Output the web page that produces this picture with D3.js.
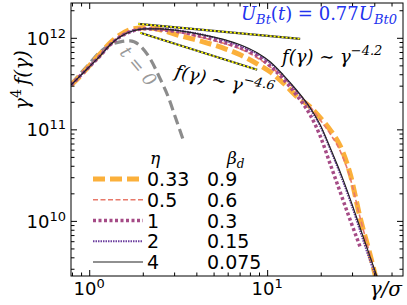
<!DOCTYPE html>
<html>
<head>
<meta charset="utf-8">
<script src="https://cdn.jsdelivr.net/npm/d3@7"></script>
<style>
body { margin: 0; background: #fff; }
svg { display: block; }
</style>
</head>
<body>
<svg id="chart" width="407" height="305"></svg>
<script>
// gamma/sigma grid shared by the eta runs
var gamma = [0.792, 0.890, 1.0, 1.153, 1.312, 1.493, 1.767, 2.064, 2.506, 3.245, 4.369, 5.808, 7.052,
             8.786, 10.39, 12.30, 14.74, 17.44, 19.85, 22.59, 25.71, 29.27, 33.31, 37.91, 41.50];

// gamma^4 f(gamma) for each eta
var f_eta033 = [3.06e11, 3.84e11, 4.94e11, 6.69e11, 8.82e11, 1.078e12, 1.254e12, 1.286e12, 1.223e12, 1.052e12, 9.04e11, 7.58e11, 6.52e11,
                5.20e11, 4.25e11, 3.22e11, 2.27e11, 1.76e11, 1.34e11, 9.87e10, 6.60e10, 3.26e10, 1.08e10, 4.25e9, 2.10e9];
var f_eta05  = [3.06e11, 3.84e11, 4.82e11, 6.52e11, 8.60e11, 1.052e12, 1.223e12, 1.254e12, 1.223e12, 1.134e12, 1.0e12, 8.60e11, 7.58e11,
                6.05e11, 4.82e11, 3.75e11, 2.57e11, 1.76e11, 1.27e11, 8.93e10, 5.82e10, 2.95e10, 1.08e10, 4.25e9, 2.27e9];
var f_eta1   = [3.06e11, 3.84e11, 4.82e11, 6.36e11, 8.39e11, 1.025e12, 1.193e12, 1.254e12, 1.223e12, 1.163e12, 1.025e12, 8.82e11, 7.78e11,
                6.36e11, 4.94e11, 3.56e11, 2.32e11, 1.44e11, 8.49e10, 4.20e10, 2.07e10, 1.025e10, 5.20e9, null, null];
var f_eta2   = [3.06e11, 3.84e11, 4.82e11, 6.36e11, 8.39e11, 1.025e12, 1.193e12, 1.254e12, 1.254e12, 1.193e12, 1.078e12, 9.27e11, 8.18e11,
                6.69e11, 5.33e11, 3.84e11, 2.57e11, 1.67e11, 1.09e11, 6.12e10, 3.26e10, 1.65e10, 7.78e9, 3.65e9, 2.27e9];
var f_eta4   = [3.06e11, 3.84e11, 4.82e11, 6.36e11, 8.39e11, 1.025e12, 1.193e12, 1.254e12, 1.254e12, 1.193e12, 1.078e12, 9.51e11, 8.39e11,
                6.86e11, 5.47e11, 3.94e11, 2.64e11, 1.72e11, 1.12e11, 6.28e10, 3.43e10, 1.74e10, 8.39e9, 4.04e9, 2.44e9];

// initial distribution, t = 0
var gamma_t0 = [0.792, 1.0, 1.153, 1.312, 1.493, 1.699, 1.934, 2.201, 2.506, 2.779, 3.042, 3.374];
var f_t0     = [3.14e11, 5.20e11, 7.03e11, 8.39e11, 9.04e11, 9.27e11, 8.18e11, 5.89e11, 3.56e11, 2.27e11, 1.37e11, 7.68e10];

// power law guides (end points)
var guide42_g = [1.885, 15.33], guide42_f = [1.42e12, 9.75e11];
var guide46_g = [1.934, 8.786], guide46_f = [1.134e12, 4.47e11];

var etaLabels  = ["0.33", "0.5", "1", "2", "4"];
var betaLabels = ["0.9", "0.6", "0.3", "0.15", "0.075"];
var xMajor = [1, 10], xExp = ["0", "1"];
var yMajor = [1e10, 1e11, 1e12], yExp = ["10", "11", "12"];

var svg = d3.select("#chart");
var plotL = 71, plotR = 403, plotT = 3, plotB = 276;
var sans = "'DejaVu Sans', sans-serif", serif = "'DejaVu Serif', serif";

var x = d3.scaleLog().domain([0.79, 58]).range([plotL, plotR]);
var y = d3.scaleLog().domain([2.5e9, 2.4e12]).range([plotB, plotT]);

svg.append("clipPath").attr("id", "clip")
    .append("rect").attr("x", plotL).attr("y", plotT)
    .attr("width", plotR - plotL).attr("height", plotB - plotT);

var series = [
    {f: f_eta033, color: "#fbb03b", width: 5,   dash: "12,5"},
    {f: f_eta05,  color: "#e8796a", width: 1.6, dash: "5,2.5"},
    {f: f_eta1,   color: "#a54b86", width: 3.5, dash: "3,2.5"},
    {f: f_eta2,   color: "#6b3d9e", width: 2,   dash: "1.5,1"},
    {f: f_eta4,   color: "#222222", width: 1.2, dash: null}
];

var line = d3.line()
    .defined(function (d) { return d[1] != null; })
    .x(function (d) { return x(d[0]); })
    .y(function (d) { return y(d[1]); })
    .curve(d3.curveMonotoneX);

var plot = svg.append("g").attr("clip-path", "url(#clip)");

// t = 0
plot.append("path")
    .attr("d", line(d3.zip(gamma_t0, f_t0)))
    .attr("fill", "none").attr("stroke", "#8c8c8c")
    .attr("stroke-width", 3.2).attr("stroke-dasharray", "10,5");

// guides: dark line under yellow dots
[[guide42_g, guide42_f], [guide46_g, guide46_f]].forEach(function (g) {
    var pts = d3.zip(g[0], g[1]);
    plot.append("path").attr("d", line(pts))
        .attr("fill", "none").attr("stroke", "#333").attr("stroke-width", 2.2);
    plot.append("path").attr("d", line(pts))
        .attr("fill", "none").attr("stroke", "#ffff00").attr("stroke-width", 1.6)
        .attr("stroke-dasharray", "2,2");
});

series.forEach(function (s) {
    plot.append("path")
        .attr("d", line(d3.zip(gamma, s.f)))
        .attr("fill", "none")
        .attr("stroke", s.color)
        .attr("stroke-width", s.width)
        .attr("stroke-dasharray", s.dash);
});

// axes, ticks inside on all four sides
var xMinor = x.ticks().filter(function (d) { return xMajor.indexOf(d) < 0; });
var yMinor = y.ticks().filter(function (d) { return yMajor.indexOf(d) < 0; });

var axes = [
    [d3.axisBottom, x, "translate(0," + plotB + ")", xMinor, xMajor],
    [d3.axisTop, x, "translate(0," + plotT + ")", xMinor, xMajor],
    [d3.axisLeft, y, "translate(" + plotL + ",0)", yMinor, yMajor],
    [d3.axisRight, y, "translate(" + plotR + ",0)", yMinor, yMajor]
];
axes.forEach(function (a) {
    [[a[3], 3.5], [a[4], 6]].forEach(function (t) {
        var g = svg.append("g").attr("transform", a[2])
            .call(a[0](a[1]).tickValues(t[0]).tickSize(-t[1]).tickFormat(""));
        g.select(".domain").remove();
        g.selectAll("line").attr("stroke", "#000").attr("stroke-width", 1);
    });
});

svg.append("rect")
    .attr("x", plotL).attr("y", plotT)
    .attr("width", plotR - plotL).attr("height", plotB - plotT)
    .attr("fill", "none").attr("stroke", "#000").attr("stroke-width", 1);

// tick labels as 10^n
xMajor.forEach(function (v, i) {
    var t = svg.append("text")
        .attr("x", x(v)).attr("y", 295)
        .attr("text-anchor", "middle")
        .style("font-family", sans).style("font-size", "18px");
    t.append("tspan").text("10");
    t.append("tspan").attr("dy", -7).style("font-size", "13px").text(xExp[i]);
});
yMajor.forEach(function (v, i) {
    var t = svg.append("text")
        .attr("x", plotL - 5).attr("y", y(v) + 7)
        .attr("text-anchor", "end")
        .style("font-family", sans).style("font-size", "18px");
    t.append("tspan").text("10");
    t.append("tspan").attr("dy", -7).style("font-size", "13px").text(yExp[i]);
});

// axis labels
svg.append("text")
    .attr("x", 402).attr("y", 296).attr("text-anchor", "end")
    .style("font-family", serif).style("font-style", "italic").style("font-size", "20px")
    .text("\u03b3/\u03c3");

var yl = svg.append("text")
    .attr("transform", "translate(29,80) rotate(-90)")
    .attr("text-anchor", "middle")
    .style("font-family", serif).style("font-style", "italic").style("font-size", "20px");
yl.append("tspan").text("\u03b3");
yl.append("tspan").attr("dy", -8).style("font-size", "14px").style("font-style", "normal").text("4");
yl.append("tspan").attr("dy", 8).text("\u2009f(\u03b3)");

// annotations
var ub = svg.append("text")
    .attr("x", 397).attr("y", 20).attr("text-anchor", "end")
    .attr("fill", "#2233ee")
    .style("font-family", serif).style("font-size", "18px");
ub.append("tspan").style("font-style", "italic").text("U");
ub.append("tspan").attr("dy", 4).style("font-style", "italic").style("font-size", "13px").text("Bt");
ub.append("tspan").attr("dy", -4).text("(");
ub.append("tspan").style("font-style", "italic").text("t");
ub.append("tspan").text(") = 0.77");
ub.append("tspan").style("font-style", "italic").text("U");
ub.append("tspan").attr("dy", 4).style("font-style", "italic").style("font-size", "13px").text("Bt0");

function powerLabel(sel, expo) {
    sel.style("font-family", serif).style("font-style", "italic").style("font-size", "18px");
    sel.append("tspan").text("f(\u03b3) \u223c \u03b3");
    sel.append("tspan").attr("dy", -8).style("font-size", "13px").text("\u22124." + expo);
}
powerLabel(svg.append("text").attr("x", 282).attr("y", 63), "2");
powerLabel(svg.append("text").attr("transform", "translate(174,77) rotate(12)"), "6");

svg.append("text")
    .attr("transform", "translate(119,53) rotate(50)")
    .attr("fill", "#999999")
    .style("font-family", serif).style("font-style", "italic").style("font-size", "18px")
    .text("t = 0");

// legend
var rowY = d3.scaleLinear().domain([0, 4]).range([179, 262]);
var leg = svg.append("g");
leg.append("text").attr("x", 150).attr("y", 164)
    .style("font-family", serif).style("font-style", "italic").style("font-size", "17px")
    .text("\u03b7");
var bl = leg.append("text").attr("x", 227).attr("y", 164)
    .style("font-family", serif).style("font-style", "italic").style("font-size", "17px");
bl.append("tspan").text("\u03b2");
bl.append("tspan").attr("dy", 4).style("font-size", "12px").text("d");

series.forEach(function (s, i) {
    var yy = rowY(i);
    leg.append("line")
        .attr("x1", 93).attr("x2", 143).attr("y1", yy).attr("y2", yy)
        .attr("stroke", s.color).attr("stroke-width", s.width)
        .attr("stroke-dasharray", s.dash);
    leg.append("text").attr("x", 147).attr("y", yy + 7)
        .style("font-family", sans).style("font-size", "19px")
        .text(etaLabels[i]);
    leg.append("text").attr("x", 207).attr("y", yy + 7)
        .style("font-family", sans).style("font-size", "19px")
        .text(betaLabels[i]);
});
</script>
</body>
</html>
